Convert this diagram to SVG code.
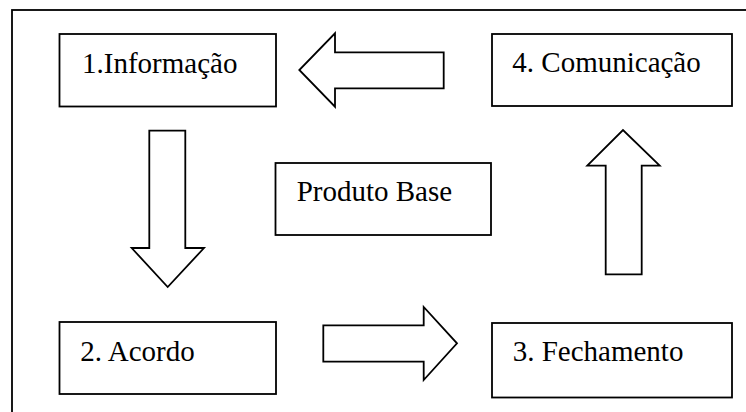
<svg xmlns="http://www.w3.org/2000/svg" width="746" height="412" viewBox="0 0 746 412">
<style>
.box{fill:#fff;stroke:#000;stroke-width:1.8}
.arr{fill:#fff;stroke:#000;stroke-width:1.8;stroke-linejoin:miter}
.lbl{font-family:"Liberation Serif","Times New Roman",serif;font-size:29px;fill:#000}
</style>
<rect x="0" y="0" width="746" height="412" fill="#fff"/>
<rect id="frame" x="12" y="10" width="750" height="420" fill="none" stroke="#000" stroke-width="1.8"/>
<g id="connectors">
<polygon class="arr" points="443.7,52.3 335,52.3 335,33.3 299.3,70 335,106.7 335,88.3 443.7,88.3"/>
<polygon class="arr" points="149.3,130.7 185.3,130.7 185.3,248 204,248 167.7,287 131.7,248 149.3,248"/>
<polygon class="arr" points="323.3,325.3 423.7,325.3 423.7,307 457,343.3 423.7,380 423.7,361.7 323.3,361.7"/>
<polygon class="arr" points="605.7,274.3 605.7,165.7 587.3,165.7 623,130 659.7,165.7 641.7,165.7 641.7,274.3"/>
</g>
<g id="n1">
<rect class="box" x="59.5" y="34" width="216.5" height="72.5"/>
<text class="lbl" x="82" y="72.5">1.Informação</text>
</g>
<g id="n4">
<rect class="box" x="492" y="34" width="240" height="72"/>
<text class="lbl" x="512.3" y="71.7">4. Comunicação</text>
</g>
<g id="n0">
<rect class="box" x="275.5" y="163" width="215.5" height="72"/>
<text class="lbl" x="296.7" y="200.7">Produto Base</text>
</g>
<g id="n2">
<rect class="box" x="59.5" y="322" width="216.5" height="72"/>
<text class="lbl" x="80.3" y="361">2. Acordo</text>
</g>
<g id="n3">
<rect class="box" x="492" y="323" width="240" height="74.5"/>
<text class="lbl" x="512.7" y="361.3">3. Fechamento</text>
</g>
</svg>
